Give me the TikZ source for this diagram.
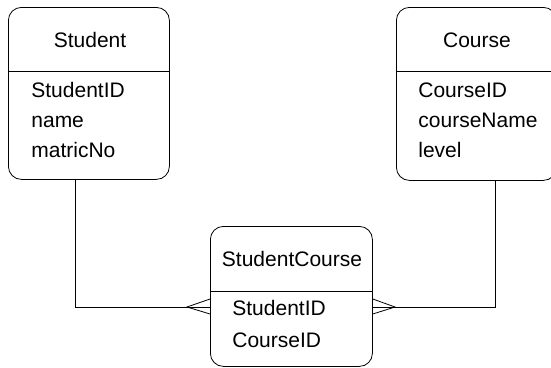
\documentclass[tikz,border=0pt]{standalone}
\usepackage{fontspec}
\setmainfont{Liberation Sans}
\usetikzlibrary{positioning,calc}

\begin{document}
\begin{tikzpicture}[x=1pt,y=-1pt,line width=0.8pt,
  entity/.style={draw,rounded corners=13pt,anchor=north west,inner sep=0pt},
  label/.style={inner sep=0pt,font=\fontsize{21}{24}\selectfont},
  attr/.style={label,anchor=base west},
  title/.style={label,anchor=base}]
\useasboundingbox (0,0) rectangle (551,367);
% entity boxes
\node[entity,minimum width=161pt,minimum height=172pt] (student) at (8,7) {};
\node[entity,minimum width=160pt,minimum height=173pt] (course) at (396,7) {};
\node[entity,minimum width=162pt,minimum height=140pt] (sc) at (210,226) {};
\draw (student.west |- 0,71) -- (student.east |- 0,71);
\draw (course.west |- 0,71) -- (course.east |- 0,71);
\draw (sc.west |- 0,291) -- (sc.east |- 0,291);
% titles
\node[title] (studentT) at (90,47) {Student};
\node[title] (courseT) at (477,47) {Course};
\node[title] (scT) at (292,266) {StudentCourse};
% attributes
\foreach \a [count=\i] in {StudentID,name,matricNo}
  \node[attr] (studentA\i) at (31,67+30*\i) {\a};
\foreach \a [count=\i] in {CourseID,courseName,level}
  \node[attr] (courseA\i) at (418,67+30*\i) {\a};
\foreach \a [count=\i] in {StudentID,CourseID}
  \node[attr] (scA\i) at (232,283+32*\i) {\a};
% relationships with crow's feet
\coordinate (ltip) at (187,307);
\coordinate (rtip) at (395,307);
\draw (student.south -| 75,0) |- (sc.west |- ltip);
\draw (sc.west |- 0,299) -- (ltip) -- (sc.west |- 0,314);
\draw (course.south -| 495,0) |- (sc.east |- rtip);
\draw (sc.east |- 0,299) -- (rtip) -- (sc.east |- 0,314);
\end{tikzpicture}
\end{document}
